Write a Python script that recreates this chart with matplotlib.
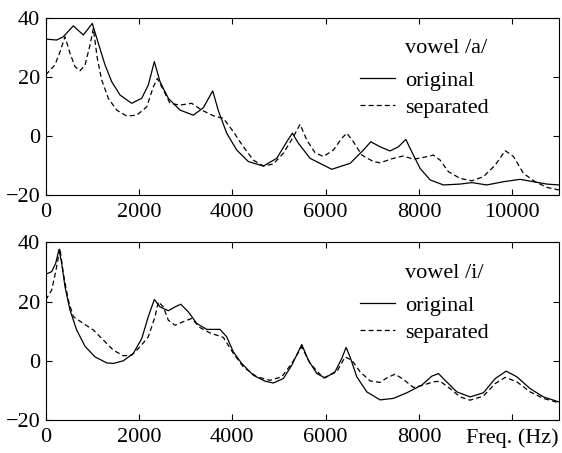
"""Spectral envelopes of original vs separated vowels."""

import matplotlib

matplotlib.use("Agg")

import matplotlib.pyplot as plt

# vowel /a/ (top panel)
a_orig_freq = [0, 236, 377, 592, 806, 999, 1128, 1271, 1415, 1593, 1843, 2058, 2199,
               2328, 2450, 2628, 2879, 3164, 3378, 3579, 3700, 3879, 4094, 4343, 4665,
               4951, 5166, 5286, 5415, 5665, 6130, 6523, 6808, 6966, 7166, 7380, 7558,
               7717, 7845, 8023, 8238, 8523, 8881, 9132, 9453, 9809, 10167, 10452,
               10739, 11000]
a_orig_db = [32.7, 32.4, 33.5, 37.2, 34.1, 38, 31.3, 24, 18.3, 13.8, 11, 12.7, 17.2,
             25.1, 18.3, 12.7, 8.7, 7, 9.5, 15.2, 8.5, 0.9, -4.8, -8.7, -10.2,
             -7.6, -2, 0.9, -2.5, -7.6, -11.3, -9.3, -4.8, -2, -3.7, -5.1, -3.7,
             -1.2, -5.4, -11, -14.9, -16.6, -16.3, -15.8, -16.6, -15.5, -14.7, -15.5,
             -16.3, -16.6]

a_sep_freq = [0, 199, 306, 414, 521, 628, 735, 842, 950, 1021, 1106, 1200, 1342, 1522,
              1736, 1951, 2165, 2307, 2393, 2521, 2664, 2879, 3129, 3344, 3593, 3807,
              4021, 4236, 4450, 4665, 4879, 5093, 5308, 5451, 5594, 5773, 5951, 6165,
              6345, 6452, 6594, 6774, 7022, 7166, 7451, 7665, 7880, 8094, 8308, 8452,
              8630, 8881, 9132, 9381, 9632, 9846, 10024, 10239, 10489, 10739, 11000]
a_sep_db = [20.6, 24, 28.4, 33.5, 27.9, 23.4, 22, 23.9, 30.7, 36.3, 26.2, 18.9, 12.7, 8.7,
            6.7, 7, 9.8, 16.6, 19.4, 15.5, 11, 10.4, 11, 8.7, 6.8, 5.9,
            1.4, -3.7, -8.2, -10.2, -9.5, -5.9, -0.3, 3.9, -1.4, -5.7, -7, -4.8,
            -0.8, 0.9, -2, -6.5, -8.7, -9.1, -7.6, -6.8, -7.9, -7.3, -6.5, -8.2,
            -12.1, -14.4, -15.2, -13.8, -9.9, -5, -7, -12.7, -15.5, -17.4, -18.3]

# vowel /i/ (bottom panel)
i_orig_freq = [0, 129, 214, 285, 343, 414, 521, 664, 842, 1057, 1307, 1449, 1663, 1878,
               2058, 2199, 2328, 2450, 2628, 2772, 2894, 3058, 3236, 3451, 3736, 3879,
               4021, 4200, 4450, 4701, 4879, 5093, 5273, 5487, 5629, 5809, 5987, 6201,
               6345, 6437, 6523, 6666, 6880, 7166, 7451, 7738, 8060, 8274, 8416, 8559,
               8810, 9095, 9381, 9632, 9867, 10096, 10381, 10667, 11000]
i_orig_db = [29.2, 30.1, 32.9, 37.6, 32.9, 25, 17.1, 10.4, 4.9, 1.3, -0.7, -0.9, 0, 2.5,
             7.5, 14.9, 20.7, 18.2, 16.9, 18.2, 19.1, 16.5, 12.6, 10.6, 10.6, 8.1,
             3, -0.9, -4.9, -6.9, -7.5, -6, -1.5, 5.5, 0.2, -4.3, -5.8, -3.7,
             0.8, 4.5, 1.3, -5.4, -10.5, -13.2, -12.7, -10.8, -8.2, -5.2, -4.3, -6.6,
             -10.5, -12.2, -10.8, -6, -3.5, -5.4, -9.4, -12.2, -13.9]

i_sep_freq = [0, 129, 221, 306, 377, 484, 592, 806, 1021, 1235, 1449, 1663, 1843, 2021,
              2199, 2343, 2414, 2521, 2628, 2772, 2950, 3129, 3308, 3522, 3807, 4021,
              4236, 4522, 4808, 5058, 5273, 5487, 5665, 5951, 6237, 6416, 6559, 6737,
              6951, 7166, 7309, 7487, 7665, 7880, 8094, 8308, 8452, 8666, 8881, 9095,
              9381, 9632, 9846, 10096, 10381, 10667, 11000]
i_sep_db = [20.5, 23.9, 30.6, 38, 29.5, 20.5, 14.9, 12.6, 10.4, 7, 3.6, 1.7, 1.9, 4.7,
            8.1, 14.9, 19.9, 18.2, 13.7, 12, 13.2, 14.3, 11.2, 9.4, 7.9, 2.5,
            -2.1, -5.4, -6.6, -5.4, -0.9, 4.7, -0.9, -5.8, -3.7, 1.3, 0.2, -3.7,
            -6.8, -7.3, -5.8, -4.5, -6.3, -9, -8.2, -7.1, -6.9, -9.4, -12.2, -13.3,
            -11.9, -7.7, -5.6, -7.1, -10.5, -12.7, -14.2]

x_ticks = [0, 2000, 4000, 6000, 8000, 10000]
y_ticks = [-20, 0, 20, 40]

plt.rcParams["font.family"] = ["Liberation Serif", "DejaVu Serif"]
plt.rcParams["font.size"] = 16

fig = plt.figure(figsize=(5.62, 4.53), dpi=100)
ax_a = fig.add_axes([0.0813, 0.5695, 0.9134, 0.3918])
ax_i = fig.add_axes([0.0813, 0.0728, 0.9134, 0.3923])

panels = [
    (ax_a, a_orig_freq, a_orig_db, a_sep_freq, a_sep_db, "vowel /a/"),
    (ax_i, i_orig_freq, i_orig_db, i_sep_freq, i_sep_db, "vowel /i/"),
]

for ax, of, od, sf, sd, title in panels:
    ax.plot(of, od, color="black", lw=0.9, label="original")
    ax.plot(sf, sd, color="black", lw=0.9, dashes=(4, 2.5), label="separated")
    ax.set_xlim(0, 11000)
    ax.set_ylim(-20, 40)
    ax.set_xticks(x_ticks)
    ax.set_yticks(y_ticks)
    ax.tick_params(direction="in", top=True, right=True, length=4, width=0.8)
    ax.tick_params(axis="x", pad=6)
    ax.tick_params(axis="y", pad=4)
    for side in ax.spines.values():
        side.set_linewidth(0.8)
    ax.text(0.70, 0.823, title, transform=ax.transAxes, va="center", ha="left")
    ax.legend(loc="center left", bbox_to_anchor=(0.612, 0.569), frameon=False,
              handlelength=1.58, handletextpad=0.45, labelspacing=0.3,
              borderpad=0, borderaxespad=0)

ax_i.set_xticklabels(["0", "2000", "4000", "6000", "8000", "Freq. (Hz)"])

fig.savefig("out.png", dpi=100)
